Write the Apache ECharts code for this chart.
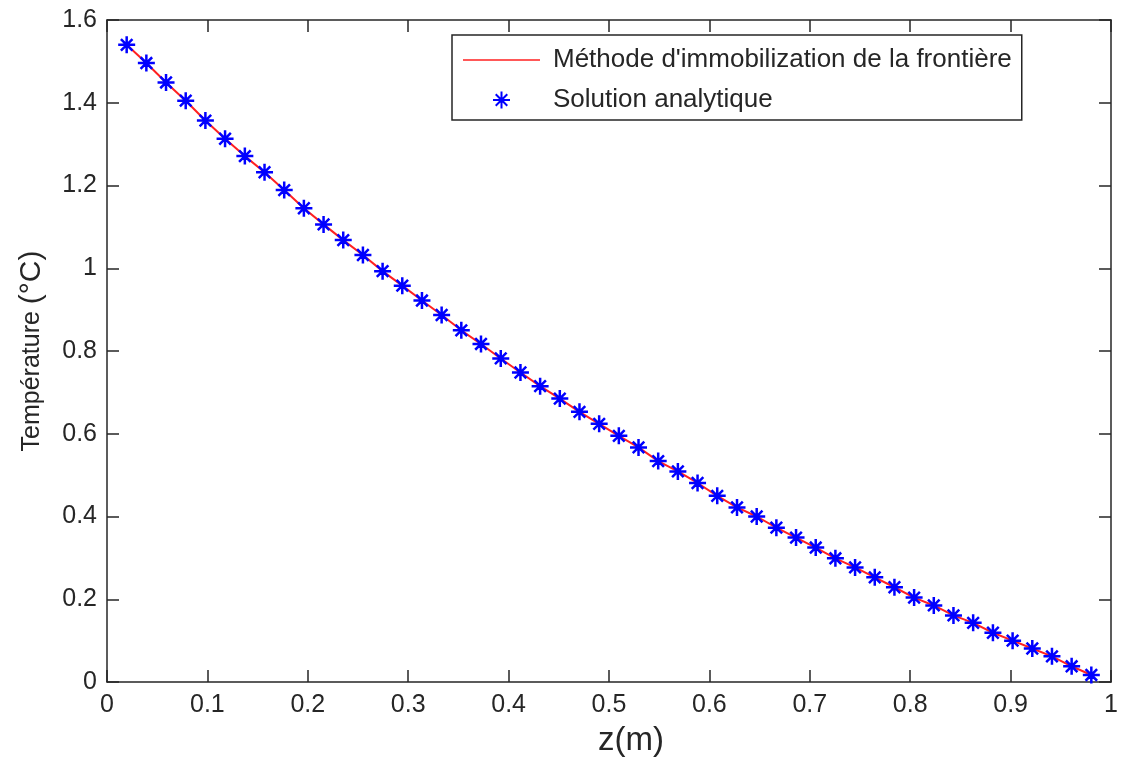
<!DOCTYPE html>
<html>
<head>
<meta charset="utf-8">
<script src="https://cdn.jsdelivr.net/npm/echarts@6/dist/echarts.min.js"></script>
<style>
  html, body { margin: 0; padding: 0; background: #fff; }
  #chart { width: 1121px; height: 762px; }
</style>
</head>
<body>
<div id="chart"></div>
<script>
// Position along the domain (m)
var zValues = [
  0.0196, 0.0392, 0.0588, 0.0784, 0.0980, 0.1176, 0.1373, 0.1569, 0.1765, 0.1961,
  0.2157, 0.2353, 0.2549, 0.2745, 0.2941, 0.3137, 0.3333, 0.3529, 0.3725, 0.3922,
  0.4118, 0.4314, 0.4510, 0.4706, 0.4902, 0.5098, 0.5294, 0.5490, 0.5686, 0.5882,
  0.6078, 0.6275, 0.6471, 0.6667, 0.6863, 0.7059, 0.7255, 0.7451, 0.7647, 0.7843,
  0.8039, 0.8235, 0.8431, 0.8627, 0.8824, 0.9020, 0.9216, 0.9412, 0.9608, 0.9804
];
// Temperature from the front-fixing method (°C)
var numericTemp = [
  1.540, 1.496, 1.449, 1.405, 1.357, 1.313, 1.271, 1.232, 1.189, 1.145,
  1.106, 1.068, 1.032, 0.993, 0.958, 0.922, 0.887, 0.850, 0.817, 0.782,
  0.748, 0.715, 0.685, 0.653, 0.624, 0.595, 0.567, 0.534, 0.509, 0.481,
  0.450, 0.422, 0.400, 0.373, 0.349, 0.325, 0.299, 0.277, 0.253, 0.229,
  0.204, 0.185, 0.161, 0.143, 0.119, 0.100, 0.081, 0.062, 0.038, 0.017
];
// Analytical solution (°C)
var analyticTemp = [
  1.540, 1.496, 1.449, 1.405, 1.357, 1.313, 1.271, 1.232, 1.189, 1.145,
  1.106, 1.068, 1.032, 0.993, 0.958, 0.922, 0.887, 0.850, 0.817, 0.782,
  0.748, 0.715, 0.685, 0.653, 0.624, 0.595, 0.567, 0.534, 0.509, 0.481,
  0.450, 0.422, 0.400, 0.373, 0.349, 0.325, 0.299, 0.277, 0.253, 0.229,
  0.204, 0.185, 0.161, 0.143, 0.119, 0.100, 0.081, 0.062, 0.038, 0.017
];
var seriesNames = ["Méthode d'immobilization de la frontière", 'Solution analytique'];

var FONT = 'Liberation Sans, Arial, sans-serif';
var INK = '#262626';

function pairs(xs, ys) {
  return xs.map(function (x, i) { return [x, ys[i]]; });
}

// MATLAB-style '*' marker: plus sign overlaid with a cross, with a solid hub
var starPath = 'path://M50 0 L50 100 M0 50 L100 50 M16 16 L84 84 M84 16 L16 84 ' +
  'M40 40 L60 40 L60 60 L40 60 Z';

var chart = echarts.init(document.getElementById('chart'), null, { renderer: 'canvas' });

// Shared look for the four sides of the box
var frameAxis = {
  axisLine: { show: true, onZero: false, lineStyle: { color: INK, width: 1.5 } },
  axisTick: { show: true, inside: true, length: 12, lineStyle: { color: INK, width: 1.5 } },
  splitLine: { show: false }
};

function tickText(v) { return String(+v.toFixed(1)); }

chart.setOption({
  backgroundColor: '#ffffff',
  animation: false,
  grid: { left: 107, right: 10, top: 20, bottom: 72, containLabel: false },
  legend: {
    left: 452, top: 35,
    orient: 'vertical',
    backgroundColor: '#ffffff',
    borderColor: INK, borderWidth: 1.5,
    padding: [12, 10, 7, 11],
    itemWidth: 77, itemHeight: 17, itemGap: 14,
    textStyle: { fontFamily: FONT, fontSize: 26, color: INK, padding: [0, 0, 0, 8] },
    data: [
      { name: seriesNames[0], icon: 'path://M0 0 L100 0 L100 2 L0 2 Z' },
      { name: seriesNames[1] }
    ]
  },
  xAxis: [
    Object.assign({
      type: 'value', position: 'bottom', min: 0, max: 1, interval: 0.1,
      name: 'z(m)', nameLocation: 'middle', nameGap: 42,
      nameTextStyle: { fontFamily: FONT, fontSize: 33, color: INK, padding: [0, 0, 0, 44] },
      axisLabel: { fontFamily: FONT, fontSize: 25, color: INK, margin: 11, formatter: tickText }
    }, frameAxis),
    Object.assign({
      type: 'value', position: 'top', min: 0, max: 1, interval: 0.1,
      axisLabel: { show: false }
    }, frameAxis)
  ],
  yAxis: [
    Object.assign({
      type: 'value', position: 'left', min: 0, max: 1.6, interval: 0.2,
      name: '{a|Température }{b|(°C)}', nameLocation: 'middle', nameGap: 60,
      nameTextStyle: {
        color: INK,
        rich: {
          a: { fontFamily: FONT, fontSize: 25, color: INK },
          b: { fontFamily: FONT, fontSize: 30, color: INK }
        }
      },
      axisLabel: { fontFamily: FONT, fontSize: 25, color: INK, margin: 10, formatter: tickText }
    }, frameAxis),
    Object.assign({
      type: 'value', position: 'right', min: 0, max: 1.6, interval: 0.2,
      axisLabel: { show: false }
    }, frameAxis)
  ],
  series: [
    {
      name: seriesNames[0],
      type: 'line',
      data: pairs(zValues, numericTemp),
      showSymbol: false,
      symbol: 'none',
      color: '#ff2020',
      lineStyle: { color: '#ff2020', width: 2 },
      z: 2
    },
    {
      name: seriesNames[1],
      type: 'scatter',
      data: pairs(zValues, analyticTemp),
      symbol: starPath,
      symbolSize: 17,
      itemStyle: { color: '#0000ff', borderColor: '#0000ff', borderWidth: 2.5, opacity: 1 },
      z: 3
    }
  ]
});
</script>
</body>
</html>
